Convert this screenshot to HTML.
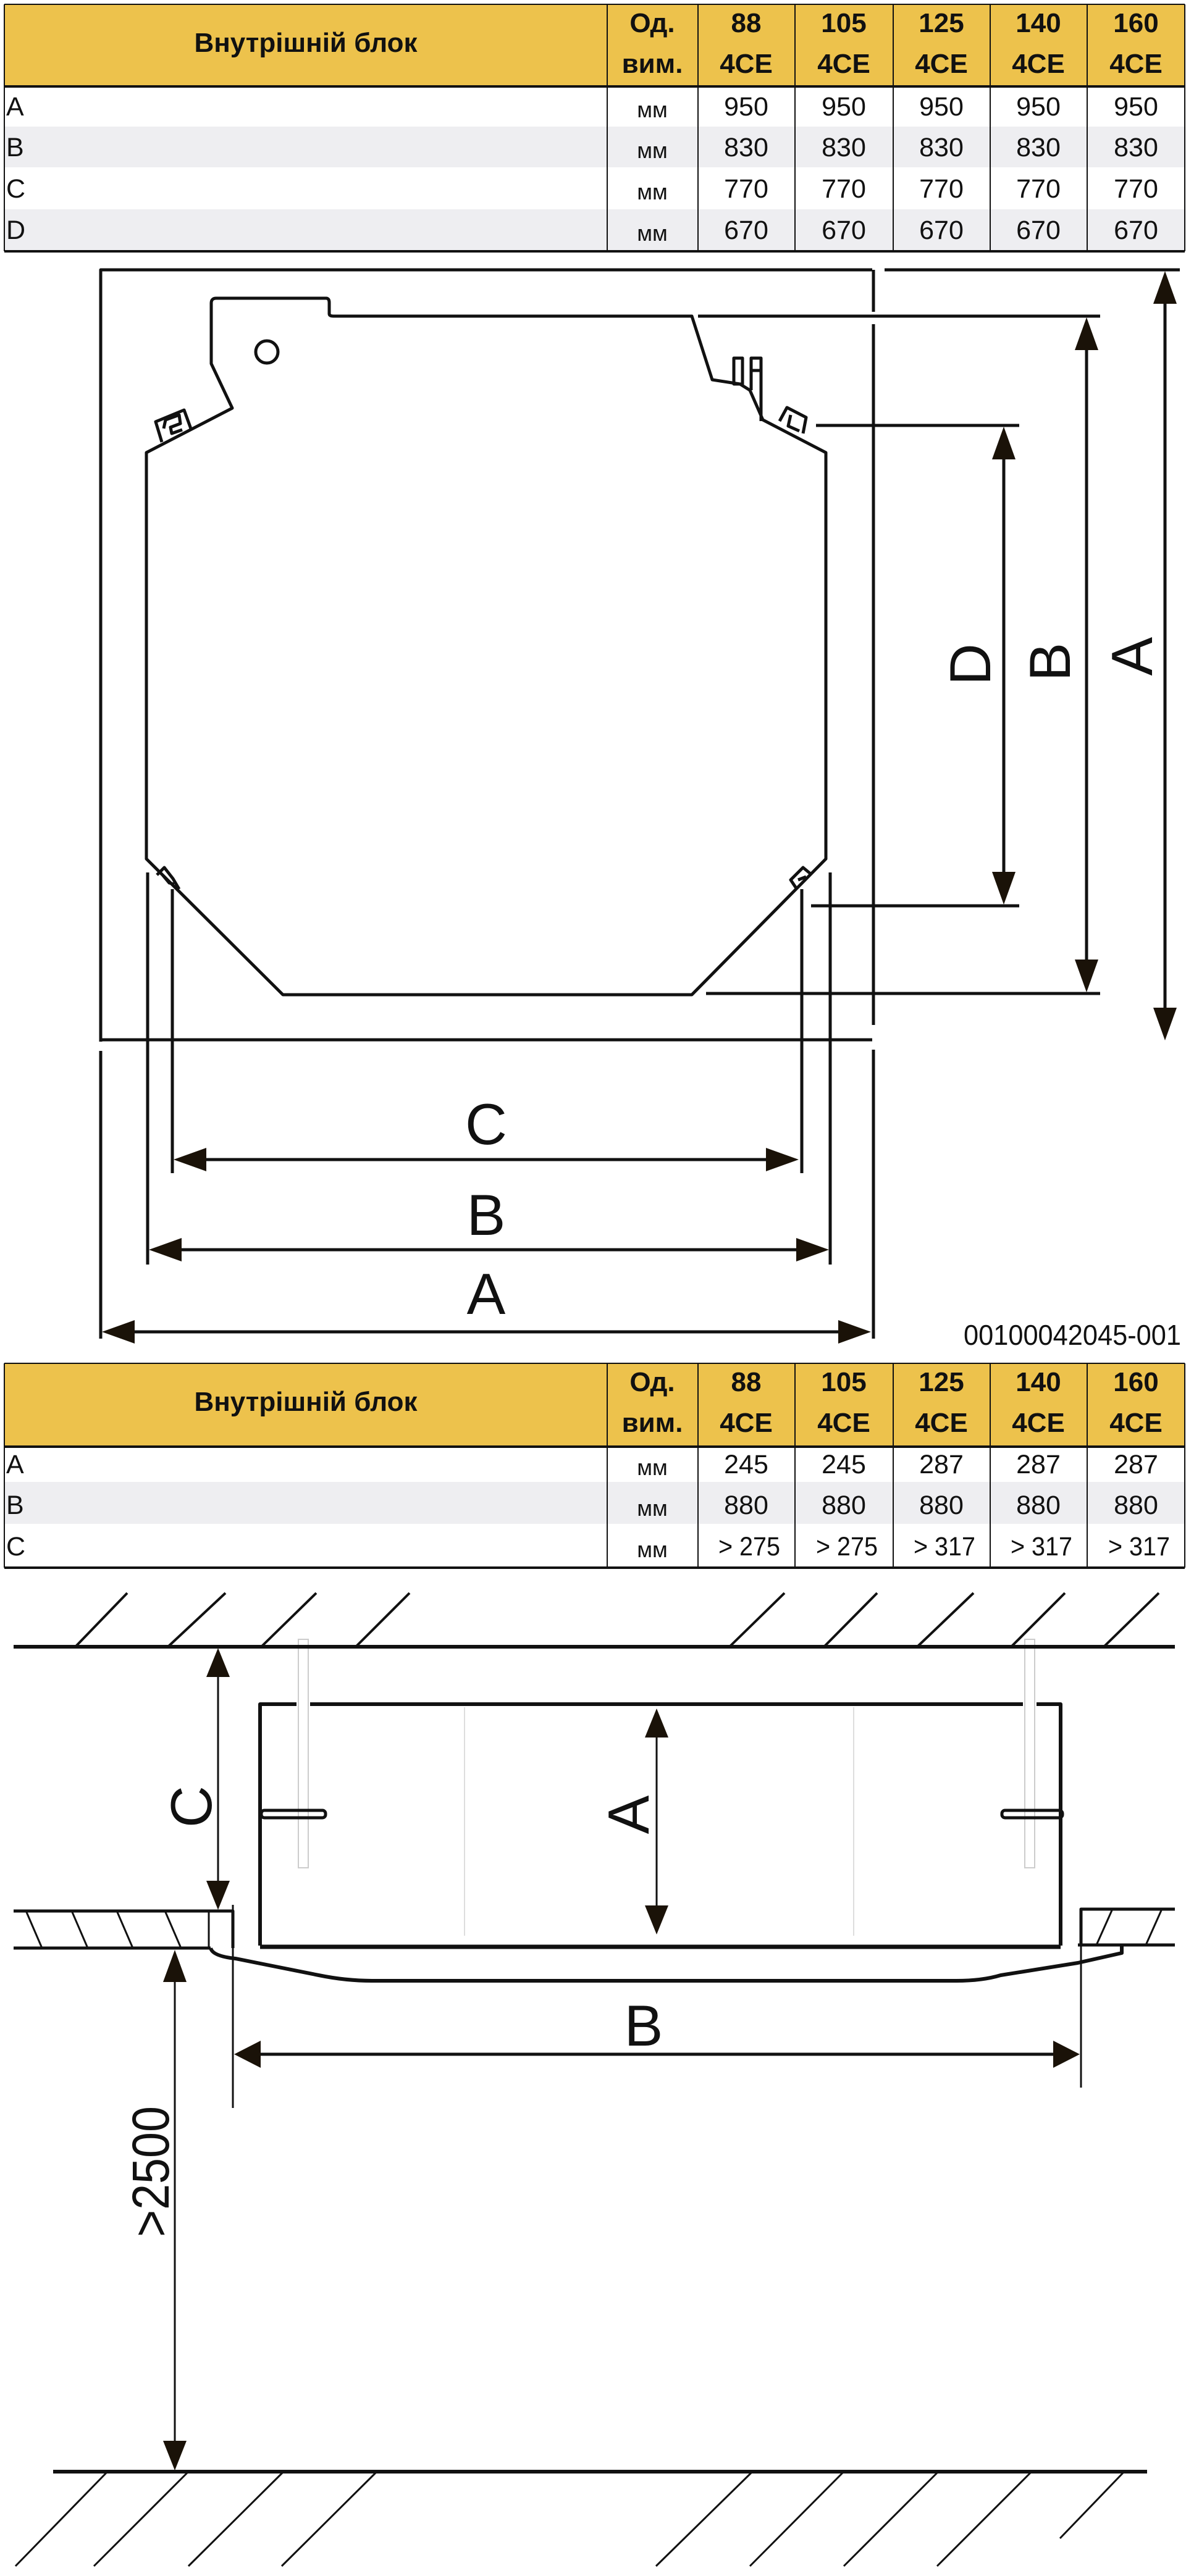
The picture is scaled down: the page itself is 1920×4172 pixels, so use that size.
<!DOCTYPE html>
<html><head><meta charset="utf-8"><style>
html,body{margin:0;padding:0;background:#fff}
svg{display:block}
text{font-family:"Liberation Sans",sans-serif;fill:#111}
.h{font-weight:bold;font-size:44px}
.t{font-size:43px}
.lab{font-size:94px}
</style></head><body>
<svg width="1920" height="4172" viewBox="0 0 1920 4172" xmlns="http://www.w3.org/2000/svg">
<!-- TABLE 1 -->
<rect x="7" y="8" width="1911" height="132" fill="#EDC24C"/>
<rect x="7" y="205" width="1911" height="66" fill="#EEEEF1"/>
<rect x="7" y="339" width="1911" height="66" fill="#EEEEF1"/>
<g stroke="#111" stroke-width="2" fill="none">
<line x1="7" y1="7" x2="1918" y2="7"/>
<line x1="7" y1="7" x2="7" y2="407"/>
<line x1="1918" y1="7" x2="1918" y2="407"/>
<line x1="983" y1="7" x2="983" y2="407"/><line x1="1130" y1="7" x2="1130" y2="407"/><line x1="1287" y1="7" x2="1287" y2="407"/><line x1="1446" y1="7" x2="1446" y2="407"/><line x1="1603" y1="7" x2="1603" y2="407"/><line x1="1760" y1="7" x2="1760" y2="407"/>
</g>
<line x1="7" y1="140" x2="1918" y2="140" stroke="#111" stroke-width="4"/>
<line x1="7" y1="407" x2="1918" y2="407" stroke="#111" stroke-width="4"/>
<g class="h" text-anchor="middle">
<text x="495" y="84">Внутрішній блок</text>
<text x="1056" y="52">Од.</text><text x="1056" y="118">вим.</text>
<text x="1208" y="52">88</text><text x="1208" y="118">4CE</text>
<text x="1366" y="52">105</text><text x="1366" y="118">4CE</text>
<text x="1524" y="52">125</text><text x="1524" y="118">4CE</text>
<text x="1681" y="52">140</text><text x="1681" y="118">4CE</text>
<text x="1839" y="52">160</text><text x="1839" y="118">4CE</text>
</g>
<g class="t">
<text x="10" y="187">A</text><text x="10" y="253">B</text><text x="10" y="320">C</text><text x="10" y="387">D</text>
</g>
<g class="t" text-anchor="middle">
<text x="1056" y="190" font-size="36">мм</text><text x="1208" y="187">950</text><text x="1366" y="187">950</text><text x="1524" y="187">950</text><text x="1681" y="187">950</text><text x="1839" y="187">950</text>
<text x="1056" y="256" font-size="36">мм</text><text x="1208" y="253">830</text><text x="1366" y="253">830</text><text x="1524" y="253">830</text><text x="1681" y="253">830</text><text x="1839" y="253">830</text>
<text x="1056" y="323" font-size="36">мм</text><text x="1208" y="320">770</text><text x="1366" y="320">770</text><text x="1524" y="320">770</text><text x="1681" y="320">770</text><text x="1839" y="320">770</text>
<text x="1056" y="390" font-size="36">мм</text><text x="1208" y="387">670</text><text x="1366" y="387">670</text><text x="1524" y="387">670</text><text x="1681" y="387">670</text><text x="1839" y="387">670</text>
</g>

<!-- DIAGRAM 1 -->
<g stroke="#111" stroke-width="5" fill="none" stroke-linejoin="round">
<polyline points="163,1687 163,437 1412,437"/>
<line x1="163" y1="1684" x2="1412" y2="1684"/>
<line x1="1414" y1="437" x2="1414" y2="505"/>
<line x1="1414" y1="525" x2="1414" y2="1660"/>
<line x1="1414" y1="1700" x2="1414" y2="2168"/>
<line x1="163" y1="1702" x2="163" y2="2168"/>
<line x1="1432" y1="437" x2="1910" y2="437"/>
<line x1="1130" y1="512" x2="1781" y2="512"/>
<line x1="1143" y1="1609" x2="1781" y2="1609"/>
<line x1="1321" y1="689" x2="1650" y2="689"/>
<line x1="1313" y1="1467" x2="1650" y2="1467"/>
<line x1="239" y1="1413" x2="239" y2="2048"/>
<line x1="279" y1="1440" x2="279" y2="1900"/>
<line x1="1298" y1="1440" x2="1298" y2="1900"/>
<line x1="1344" y1="1413" x2="1344" y2="2048"/>
<path d="M342,491 Q342,483 350,483 L528,483 Q533,483 533,490 L533,508 Q533,512 540,512 L1120,512 L1153,615 L1198,622 L1214,632 L1235,680 L1337,733 L1337,1391 L1120,1611 L458,1611 L237,1391 L237,733 L376,661 L342,589 Z"/>
<circle cx="432" cy="570" r="18"/>
<path d="M262,716 L252,683 L298,664 L310,697 M265,694 L268,680 L290,672 L292,686 L276,692 L278,702 L295,696"/>
<path d="M1262,682 L1274,660 L1305,676 L1300,702 M1280,672 L1276,690 L1294,698"/>
<path d="M254,1417 L266,1405 L280,1423 L290,1440 M264,1418 L274,1430 L282,1432"/>
<path d="M1290,1440 L1280,1425 L1300,1405 L1312,1415 M1292,1425 L1305,1420"/>
<rect x="1188" y="580" width="14" height="42"/>
<rect x="1216" y="580" width="16" height="20"/>
<line x1="1216" y1="600" x2="1216" y2="632"/><line x1="1232" y1="600" x2="1232" y2="682"/>
</g>
<g stroke="#111" stroke-width="5">
<line x1="1886" y1="480" x2="1886" y2="1645"/>
<line x1="1759" y1="555" x2="1759" y2="1567"/>
<line x1="1625" y1="732" x2="1625" y2="1425"/>
<line x1="320" y1="1878" x2="1255" y2="1878"/>
<line x1="280" y1="2024" x2="1298" y2="2024"/>
<line x1="205" y1="2157" x2="1372" y2="2157"/>
</g>
<g fill="#1a1208">
<polygon points="1886,439 1867,492 1905,492"/><polygon points="1886,1685 1867,1632 1905,1632"/>
<polygon points="1759,514 1740,567 1778,567"/><polygon points="1759,1607 1740,1554 1778,1554"/>
<polygon points="1625,691 1606,744 1644,744"/><polygon points="1625,1465 1606,1412 1644,1412"/>
<polygon points="281,1878 334,1859 334,1897"/><polygon points="1293,1878 1240,1859 1240,1897"/>
<polygon points="241,2024 294,2005 294,2043"/><polygon points="1342,2024 1289,2005 1289,2043"/>
<polygon points="165,2157 218,2138 218,2176"/><polygon points="1410,2157 1357,2138 1357,2176"/>
</g>
<g class="lab" text-anchor="middle">
<text transform="translate(1603,1076) rotate(-90)">D</text>
<text transform="translate(1732,1072) rotate(-90)">B</text>
<text transform="translate(1865,1063) rotate(-90)">A</text>
<text x="787" y="1853">C</text>
<text x="787" y="2000">B</text>
<text x="787" y="2128">A</text>
</g>
<text x="1560" y="2178" font-size="46" textLength="352" lengthAdjust="spacingAndGlyphs" fill="#222">00100042045-001</text>

<!-- TABLE 2 -->
<rect x="7" y="2209" width="1911" height="134" fill="#EDC24C"/>
<rect x="7" y="2400" width="1911" height="68" fill="#EEEEF1"/>
<g stroke="#111" stroke-width="2">
<line x1="7" y1="2208" x2="1918" y2="2208"/>
<line x1="7" y1="2208" x2="7" y2="2539"/><line x1="1918" y1="2208" x2="1918" y2="2539"/>
<line x1="983" y1="2208" x2="983" y2="2539"/><line x1="1130" y1="2208" x2="1130" y2="2539"/><line x1="1287" y1="2208" x2="1287" y2="2539"/><line x1="1446" y1="2208" x2="1446" y2="2539"/><line x1="1603" y1="2208" x2="1603" y2="2539"/><line x1="1760" y1="2208" x2="1760" y2="2539"/>
</g>
<line x1="7" y1="2343" x2="1918" y2="2343" stroke="#111" stroke-width="4"/>
<line x1="7" y1="2539" x2="1918" y2="2539" stroke="#111" stroke-width="4"/>
<g class="h" text-anchor="middle">
<text x="495" y="2285">Внутрішній блок</text>
<text x="1056" y="2253">Од.</text><text x="1056" y="2319">вим.</text>
<text x="1208" y="2253">88</text><text x="1208" y="2319">4CE</text>
<text x="1366" y="2253">105</text><text x="1366" y="2319">4CE</text>
<text x="1524" y="2253">125</text><text x="1524" y="2319">4CE</text>
<text x="1681" y="2253">140</text><text x="1681" y="2319">4CE</text>
<text x="1839" y="2253">160</text><text x="1839" y="2319">4CE</text>
</g>
<g class="t">
<text x="10" y="2386">A</text><text x="10" y="2452">B</text><text x="10" y="2519">C</text>
</g>
<g class="t" text-anchor="middle">
<text x="1056" y="2389" font-size="36">мм</text><text x="1208" y="2386">245</text><text x="1366" y="2386">245</text><text x="1524" y="2386">287</text><text x="1681" y="2386">287</text><text x="1839" y="2386">287</text>
<text x="1056" y="2455" font-size="36">мм</text><text x="1208" y="2452">880</text><text x="1366" y="2452">880</text><text x="1524" y="2452">880</text><text x="1681" y="2452">880</text><text x="1839" y="2452">880</text>
<text x="1056" y="2522" font-size="36">мм</text><text x="1213" y="2519" textLength="100" lengthAdjust="spacingAndGlyphs">&gt; 275</text><text x="1371" y="2519" textLength="100" lengthAdjust="spacingAndGlyphs">&gt; 275</text><text x="1529" y="2519" textLength="100" lengthAdjust="spacingAndGlyphs">&gt; 317</text><text x="1686" y="2519" textLength="100" lengthAdjust="spacingAndGlyphs">&gt; 317</text><text x="1844" y="2519" textLength="100" lengthAdjust="spacingAndGlyphs">&gt; 317</text>
</g>

<!-- DIAGRAM 2 -->
<g stroke="#ccc" stroke-width="2" fill="none">
<rect x="483" y="2655" width="16" height="370"/>
<rect x="1659" y="2655" width="16" height="370"/>
<line x1="752" y1="2765" x2="752" y2="3135" stroke="#ddd"/>
<line x1="1382" y1="2765" x2="1382" y2="3135" stroke="#ddd"/>
</g>
<g stroke="#111" stroke-width="4" fill="none" stroke-linejoin="round">
<line x1="22" y1="2667" x2="1902" y2="2667" stroke-width="6"/>
<line x1="123" y1="2666" x2="206" y2="2580"/><line x1="273" y1="2666" x2="365" y2="2580"/><line x1="424" y1="2666" x2="512" y2="2580"/><line x1="577" y1="2666" x2="663" y2="2580"/>
<line x1="1182" y1="2666" x2="1270" y2="2580"/><line x1="1335" y1="2666" x2="1420" y2="2580"/><line x1="1486" y1="2666" x2="1576" y2="2580"/><line x1="1638" y1="2666" x2="1724" y2="2580"/><line x1="1788" y1="2666" x2="1876" y2="2580"/>
<polyline points="421,3151 421,2760 480,2760" stroke-width="6"/>
<line x1="502" y1="2760" x2="1656" y2="2760" stroke-width="6"/>
<polyline points="1678,2760 1717,2760 1717,3151" stroke-width="6"/>
<line x1="421" y1="3153" x2="1717" y2="3153" stroke-width="7"/>
<rect x="423" y="2932" width="104" height="12" rx="5" stroke-width="5"/>
<rect x="1622" y="2932" width="98" height="12" rx="5" stroke-width="5"/>
<polyline points="22,3095 377,3095 377,3155" stroke-width="5"/>
<line x1="22" y1="3155" x2="341" y2="3155" stroke-width="5"/>
<line x1="338" y1="3095" x2="338" y2="3155" stroke-width="3"/>
<line x1="43" y1="3097" x2="68" y2="3155" stroke-width="3"/><line x1="117" y1="3097" x2="142" y2="3155" stroke-width="3"/><line x1="190" y1="3097" x2="215" y2="3155" stroke-width="3"/><line x1="268" y1="3097" x2="293" y2="3155" stroke-width="3"/>
<polyline points="1902,3092 1750,3092 1750,3150" stroke-width="5"/>
<line x1="1745" y1="3150" x2="1902" y2="3150" stroke-width="5"/>
<line x1="1880" y1="3094" x2="1855" y2="3150" stroke-width="3"/><line x1="1800" y1="3094" x2="1775" y2="3150" stroke-width="3"/>
<path d="M341,3155 Q344,3168 381,3172 L516,3199 Q560,3208 602,3208 L1548,3208 Q1590,3208 1620,3199 L1745,3179 L1816,3163 L1816,3150" stroke-width="6"/>
<line x1="377" y1="3085" x2="377" y2="3414" stroke-width="3"/>
<line x1="1750" y1="3150" x2="1750" y2="3381" stroke-width="3"/>
<line x1="86" y1="4003" x2="1857" y2="4003" stroke-width="6"/>
<line x1="172" y1="4005" x2="25" y2="4156" stroke-width="3"/><line x1="303" y1="4005" x2="152" y2="4156" stroke-width="3"/><line x1="457" y1="4005" x2="305" y2="4156" stroke-width="3"/><line x1="608" y1="4005" x2="456" y2="4156" stroke-width="3"/>
<line x1="1216" y1="4005" x2="1062" y2="4156" stroke-width="3"/><line x1="1364" y1="4005" x2="1214" y2="4156" stroke-width="3"/><line x1="1517" y1="4005" x2="1366" y2="4156" stroke-width="3"/><line x1="1668" y1="4005" x2="1517" y2="4156" stroke-width="3"/><line x1="1818" y1="4005" x2="1716" y2="4111" stroke-width="3"/>
</g>
<g stroke="#111" stroke-width="3">
<line x1="353" y1="2700" x2="353" y2="3060"/>
<line x1="1063" y1="2800" x2="1063" y2="3100"/>
<line x1="410" y1="3327" x2="1718" y2="3327" stroke-width="5"/>
<line x1="283" y1="3195" x2="283" y2="3965"/>
</g>
<g fill="#1a1208">
<polygon points="353,2669 334,2716 372,2716"/><polygon points="353,3093 334,3046 372,3046"/>
<polygon points="1063,2767 1044,2814 1082,2814"/><polygon points="1063,3133 1044,3086 1082,3086"/>
<polygon points="379,3327 422,3305 422,3349"/><polygon points="1748,3327 1705,3305 1705,3349"/>
<polygon points="283,3158 264,3210 302,3210"/><polygon points="283,4001 264,3953 302,3953"/>
</g>
<g class="lab" text-anchor="middle">
<text transform="translate(342,2926) rotate(-90)">C</text>
<text transform="translate(1050,2939) rotate(-90)">A</text>
<text x="1042" y="3313">B</text>
</g>
<text transform="translate(273,3517) rotate(-90)" font-size="84" text-anchor="middle" textLength="212" lengthAdjust="spacingAndGlyphs">&gt;2500</text>
</svg>
</body></html>
